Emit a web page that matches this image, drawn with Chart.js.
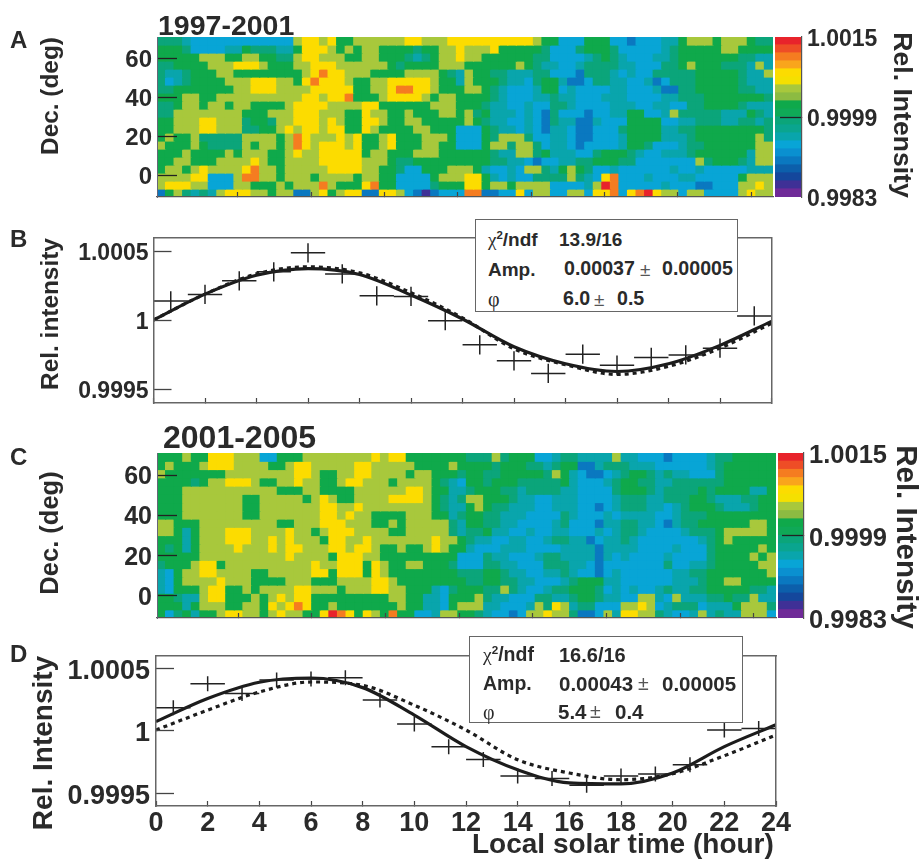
<!DOCTYPE html>
<html><head><meta charset="utf-8">
<style>
html,body{margin:0;padding:0;background:#fff;}
#fig{position:relative;width:920px;height:859px;overflow:hidden;background:#fff;}
canvas{position:absolute;left:0;}
.t{position:absolute;white-space:nowrap;font-family:"Liberation Sans",Arial,sans-serif;line-height:1;color:#2a2a2a;}
.box{position:absolute;background:#fff;border:1.5px solid #666;box-sizing:border-box;}
</style>
<script src="https://cdn.jsdelivr.net/npm/chart.js@4/dist/chart.umd.js"></script>
</head><body><div id="fig"></div>
<script>
// ---------- colour scale ----------
const levelColors = ['#6f2a98','#3f3096','#14479c','#0c5fab','#0a78c0','#0a90d0','#08a5d6','#09a5ac','#0aa58f','#0ba57a',
  '#0fa957','#0fa94b','#8cbb42','#a8c83c','#f5e000','#fcdc00','#f9a51c','#f57c20','#ee4d26','#e8232b'];
const scaleLow = 0.9983, scaleHigh = 1.0015, scaleMid = 0.9999;
const levelKey = {p:1,b:4,s:6,t:7,m:9,g:11,o:13,y:15,r:17,R:19};

// ---------- sky maps: rows from Dec 71 down to Dec -11, columns 0-360 deg, letters are levelKey levels ----------
const heatA = [
"mmmtss ssssss ssssoy yoyggo oooooy yoooyy yyyyyy yyoggs ssgggs sbssst tgooog ooogmm",
"gggmss ssttgm mmttgy yyogog oogggg mggooy oooygg gggmss smgggm ssssst mggggg oogggg",
"gggggo ooggoo ggmmoy yooogg oogggm tmgooy oogggg ggmmss sstmgm tssstt mggggg ggmmtt",
"mmgggg oooyyy ogggoo yyyooo ooogmg gggooo gggggg ogmtts stmmmm ttsssm mgoggg mmmtot",
"mttmgg googgg gggggo yryyoo oggggo ooogmt oggmmt ttmmss sbmmmt stssmm mmmggg ggmtto",
"mstmgg ggoooy yyoogy ryyyog gooyyy yyoggt ogggmt tsmggt bbsmmt tsstbs mmmggg ggmttt",
"mmgggg gggooy yyoooo yyyyyg gooyrr yyoggg oogmts sstggs tsssst tssstb bmmggg ggmmtt",
"gggoog gooooo oooooy yoyyrg ggoyyy yogoog gggmts ssttmt tssstt tsssst tmmmgg gggggm",
"mmgoog oogoog gggoyy yyoooo yygggg ggooog ggmtts stssmm tsssst ttsstt ssmmgg ggmttt",
"mmoooo oooogg goooyy yooogg yooggo gggoog omgttt stsbms ssbsst tggsst ommmmm tttgmt",
"ggoooy yooomg gmooyy yoyogg yyoggo oggggg ogmtts stsbmt tbbtss sggggs sttmmm ttmmtm",
"ggoooy yooomm ggoyoy yoyygg yogggg oogggs ssgmtt stsbtt sbbsss mggggt tmmggg gggggm",
"goggom mmmmoo oogory oooyoy ggoygg gooogs ssgmoo omsstt sbbsss tggggt ttmggg ggggom",
"ogggog mmmmog oogory oyyyoy ggoygg googgs ssgoom oomstt sbssss tggmss stmmgg ggggoo",
"gggogg ggogoo oggoyo oyyyyy googgg oooggg gggmtt oomgtt tssmgg gmtsst ttmggg gggtoo",
"ggoogg gooooy oggooo oyyyyy ooogmm gggggg gggmmt tsbsst tmmggg mmssss sssomg ggmtoo",
"googoy ooooyr oogooo ooyyyy ooggms sgggoo ogtsst soomtg ogmsst ssssss tsstss sssttt",
"ooooyy sssorr oogooo goooog ooggss ssgooo yygtst ssmmmm omtsyr ssstss sttsss ssgooo",
"oyyyoo sssoog ggogoo oroggg yrggss ssmggg yygoog ooooss sstoRr ssssst sssbbs ssooyo",
"bgomtm toyyyo ogoobb oygoyy bbyyos bpbsss rrbbss ysooss oosyyr syrRyo osooss ssoyoo"
];
const heatC = [
"gggogg yyyooo ssgggo oooooo oyoyyg gggggg mmmomg ggsstm mtttto ttsssb sssstm mggggg",
"gogggo yyyooo oggoyy oooooy yooooo ggggog gggmgg gmmtmg gbbtmm mtttss sssstm gggggg",
"oggggg ggoooo ooooyy oggooy yoooog oogggm ggmmgg gggmog tsbbst mggmtm ttsssm gggggg",
"ggggmg ooyyyo ggooyo oggoyy ooogoo oogmts ggmggg mmmmmg tssstm ggmmtt mmmmmm gggggg",
"gggooo oooooo oogggo oggggo oooooy yoggtt mgggmm tmmmmt tssssm gggmtm mmmgmg gggttg",
"gggooo oooogg ooooog oyoggo oooyyy yogmtm oogggm ttsstt tsssst mmmttm mmggmt ttmmgg",
"gggooo oooogg oooooo oyyooy oooooo oogmtt gogmmt ttsstt tssbst mmmtts tmgggm tttmgg",
"gggooo oooogg oooooo oyyoyo oggggo ooggtm ggmmtt tssssm tsssts ttttss tmmmgg gggggg",
"oogggo oooooo ooggoo oyyyoo oggogo oooomt ggmmtt sssstm sssbtt mmttsb tmmggg gggoog",
"oogtgo ooyyyo oooyoo goyyyo oooggo oooomt mmgtts stsstt ssstst mmtsss stmmmg ooooog",
"gggtgo ooyyyo oyoyoo ogyyoo yooooo ooyoog mttsst tsstmm ttbstt mtssss ssstmg oggggg",
"gmgtgo oooyoo oyoyyo ooyyoy yoggog goyogg tssstt tsssst tttbtt ttssss tsssmg ggggog",
"gggggo oooooo oooyoo oogyyy oogggg gggggs ssmtts sstmmt tttbts tsssst ssssmg gggogo",
"mgggoy ygoooo oooooo yooyyy gyoggo ogggms ssmmtt sssmmm ttsbss sssssm ssttmg ggggoo",
"tsgooy yoooog gooooo yygyyy gyoggg gggggm mmggmt tssttm tssbst ssssss ttmmgg gggggo",
"tsgooo oyooog gggooo gggooo oyyogg gggggg mmggmm ttssst mgggtt ssssss tttmgg oogggg",
"tsgggo yyggog ooooyy ooogoo oyyoog ggtsmg ggmmom tsstmm gggmst stsstm ttmmgg gggmmt",
"ggmtto yygggo goyoyy gggggg gggoog gttsgg gomtts ssmmtt mggmtt ssoots otttmm gmmott",
"gggtgo ooggoo gyoyry ggoggg ggggog gttsgo oottss stomyo tmmsss ooyost mmmstt tgooom",
"gsmgtg goyyoo goyoog gyRryg yogrgg sstoog gmtssb sooyoo mbbsot yyoomt sstotm ttooos"
];
const heatDecTop = 71, heatDecBottom = -11, heatDegTicks = [50,100,150,200,250,300,350], decTicks = [0,20,40,60];

// ---------- binned points, hour centres shared ----------
const binHours = [0.67,2,3.33,4.67,6,7.33,8.67,10,11.33,12.67,14,15.33,16.67,18,19.33,20.67,22,23.33];
const binHalfWidth = 0.667;
const pointsB = [1.000143,1.000191,1.00029,1.000355,1.000493,1.00034,1.000181,1.000176,1.0,0.999824,0.999708,0.999616,0.999756,0.999676,0.999732,0.999751,0.9998,1.000034];
const errB = 0.00007;
const pointsD = [1.000187,1.000379,1.000301,1.000408,1.000416,1.000427,1.000248,1.000056,0.999875,0.999773,0.99964,0.999621,0.999567,0.99964,0.999656,0.999731,1.000008,1.00002];
const errD = 0.00006;

// ---------- curves read every 2 hours ----------
const curveHours = [0,2,4,6,8,10,12,14,16,18,20,22,24];
const solidB  = [1.000005,1.000193,1.00033,1.000379,1.000336,1.000186,1.000012,0.99981,0.999686,0.99963,0.999686,0.99982,0.999995];
const dashedB = [1.000005,1.000193,1.00034,1.000391,1.000348,1.000203,1.00002,0.999795,0.999679,0.999609,0.999667,0.9998,0.99998];
const solidD  = [1.000075,1.00026,1.00039,1.000424,1.000347,1.000127,0.999875,0.99969,0.999585,0.999577,0.999664,0.999875,1.00005];
const dashedD = [1.000008,1.000167,1.000312,1.000392,1.000365,1.000206,1.000008,0.99977,0.999664,0.99961,0.999659,0.999802,0.999968];
const hourTicks = [0,2,4,6,8,10,12,14,16,18,20,22,24];
const intensityTicks = [0.9995,1,1.0005];
const intensityLabels = ['0.9995','1','1.0005'];
const barTicks = [0.9983,0.9999,1.0015];

const FONT = '"Liberation Sans", Arial, sans-serif';
const INK = '#2a2a2a', FRAME = '#666';
const fig = document.getElementById('fig');
Chart.defaults.font.family = FONT;
Chart.defaults.animation = false;

function makeCanvas(top, h){
  const c = document.createElement('canvas');
  c.width = 920; c.height = h; c.style.top = top+'px'; c.style.width='920px'; c.style.height=h+'px';
  fig.appendChild(c); return c;
}
function zeroFit(size){ return s => { if(s.isHorizontal()) s.height = size; else s.width = size; s.paddingLeft=s.paddingRight=s.paddingTop=s.paddingBottom=0; }; }
function setTicks(vals){ return s => { s.ticks = vals.map(v=>({value:v})); }; }
function baseOpts(p, topM, botM){
  return {responsive:false, animation:false, events:[], layout:{autoPadding:false, padding:{left:0, top:topM, right:920-p.r, bottom:botM}},
    plugins:{legend:{display:false},tooltip:{enabled:false},title:{display:false}}};
}

function heatChart(rows, p, fontPx, tickLabelGap){
  const margin = 20;
  const top = p.t-margin, h = p.b-p.t+2*margin;
  const grid = rows.map(r=>r.replace(/ /g,'').split('').map(ch=>levelKey[ch]));
  const cols = grid[0].length, nrows = grid.length;
  const step = (heatDecTop-heatDecBottom)/nrows;
  const cats = Array.from({length:cols},(_,i)=>i);
  const datasets = grid.map((row,r)=>({
    data: row.map(()=>[heatDecTop-step*(r+1), heatDecTop-step*r]),
    backgroundColor: row.map(l=>levelColors[l]),
    borderWidth:0, grouped:false, barPercentage:1, categoryPercentage:1, inflateAmount:0.6
  }));
  const o = baseOpts(p, margin, margin);
  o.scales = {
    x:{type:'category',display:false,offset:true},
    xTick:{axis:'x',type:'linear',position:'bottom',min:0,max:360,afterBuildTicks:setTicks(heatDegTicks),afterFit:zeroFit(0),
      ticks:{display:false,autoSkip:false},border:{display:true,color:'#555',width:1.2,z:1},
      grid:{drawOnChartArea:false,drawTicks:true,tickLength:-5,color:'#444',tickWidth:1.2,z:1}},
    y:{type:'linear',position:'left',min:heatDecBottom,max:heatDecTop,afterBuildTicks:setTicks(decTicks),afterFit:zeroFit(p.l),
      ticks:{color:INK,font:{size:fontPx,weight:'bold'},padding:20+tickLabelGap,autoSkip:false,labelOffset:2},
      border:{display:true,color:'#667',width:1,z:1},
      grid:{drawOnChartArea:false,tickLength:-20,color:'#222',tickWidth:1.3,z:1}}
  };
  return new Chart(makeCanvas(top,h),{type:'bar',data:{labels:cats,datasets},options:o});
}

function colorBar(p, fontPx){
  const margin = 20;
  const top = p.t-margin, h = p.b-p.t+2*margin;
  const n = levelColors.length, st = (scaleHigh-scaleLow)/n;
  const datasets = levelColors.map((c,i)=>({data:[[scaleLow+st*i,scaleLow+st*(i+1)]],backgroundColor:c,borderWidth:0,grouped:false,barPercentage:1,categoryPercentage:1,inflateAmount:0.6}));
  const o = baseOpts(p, margin, margin);
  o.layout.padding.left = p.l; o.layout.padding.right = 920-p.r-110;
  o.scales = {
    x:{type:'category',display:false,offset:true},
    y:{type:'linear',position:'right',min:scaleLow,max:scaleHigh,afterBuildTicks:setTicks(barTicks),afterFit:zeroFit(110),
      ticks:{color:INK,font:{size:fontPx,weight:'bold'},padding:27,autoSkip:false,labelOffset:3,callback:v=>v.toFixed(4)},
      border:{display:true,color:'#555',width:1.2,z:1},
      grid:{drawOnChartArea:false,tickLength:-22,tickWidth:1.3,z:1,color:c=>Math.abs(c.tick.value-scaleMid)<1e-6?'#222':'rgba(0,0,0,0)'}},
  };
  return new Chart(makeCanvas(top,h),{type:'bar',data:{labels:['scale'],datasets},options:o});
}

function linePanel(points, err, solid, dashed, p, cfg){
  const axisH = cfg.xLabels ? 40 : 0;
  const top = p.t-20, botM = cfg.bottom, h = p.b-p.t+20+botM;
  const crosses = [];
  binHours.forEach((x,i)=>{
    const y = points[i];
    crosses.push({x:x-binHalfWidth,y},{x:x+binHalfWidth,y},{x,y:null},{x,y:y-err},{x,y:y+err},{x,y:null});
  });
  const curve = arr => curveHours.map((x,i)=>({x,y:arr[i]}));
  const datasets = [
    {data:crosses,showLine:true,spanGaps:false,pointRadius:0,borderColor:'#222',borderWidth:1.5,tension:0},
    {data:curve(dashed),showLine:true,pointRadius:0,borderColor:'#1c1c1c',borderWidth:3.2,borderDash:[4,4],tension:0.4,cubicInterpolationMode:'monotone'},
    {data:curve(solid),showLine:true,pointRadius:0,borderColor:'#1c1c1c',borderWidth:3.2,tension:0.4,cubicInterpolationMode:'monotone'}
  ];
  const o = baseOpts(p,20,botM-axisH);
  const frame = {display:true,color:FRAME,width:1.5,z:1};
  o.scales = {
    x:{type:'linear',position:'bottom',min:0,max:24,afterBuildTicks:setTicks(hourTicks),afterFit:zeroFit(axisH),
      ticks:{display:cfg.xLabels,color:INK,font:{size:cfg.font,weight:'bold'},padding:5+cfg.xGap,autoSkip:false,maxRotation:0},
      border:frame,grid:{drawOnChartArea:false,tickLength:-5,color:'#444',tickWidth:1.2,z:1}},
    xTop:{axis:'x',type:'linear',position:'top',min:0,max:24,afterFit:zeroFit(0),ticks:{display:false},border:frame,grid:{drawOnChartArea:false,drawTicks:false}},
    y:{type:'linear',position:'left',min:cfg.yMin,max:cfg.yMax,afterBuildTicks:setTicks(intensityTicks),afterFit:zeroFit(p.l),
      ticks:{color:INK,font:{size:cfg.font,weight:'bold'},padding:18+cfg.yGap,autoSkip:false,labelOffset:cfg.yOff,callback:(v,i)=>intensityLabels[i]},
      border:frame,grid:{drawOnChartArea:false,tickLength:-18,color:'#444',tickWidth:1.3,z:1}},
    yRight:{axis:'y',type:'linear',position:'right',min:cfg.yMin,max:cfg.yMax,afterFit:zeroFit(0),ticks:{display:false},border:frame,grid:{drawOnChartArea:false,drawTicks:false}}
  };
  return new Chart(makeCanvas(top,h),{type:'scatter',data:{datasets},options:o});
}

function text(str,x,base,size,weight){
  const d=document.createElement('div');d.className='t';d.innerHTML=str;
  d.style.left=x+'px';d.style.top=(base-0.8465*size)+'px';d.style.fontSize=size+'px';d.style.fontWeight=weight||'bold';
  fig.appendChild(d);return d;
}
function vtext(str,cx,cy,size,deg){
  const d=document.createElement('div');d.className='t';d.textContent=str;
  d.style.left=cx+'px';d.style.top=cy+'px';d.style.fontSize=size+'px';d.style.fontWeight='bold';
  d.style.transform='translate(-50%,-50%) rotate('+deg+'deg)';
  fig.appendChild(d);return d;
}
function statBox(l,t,r,b){
  const d=document.createElement('div');d.className='box';
  d.style.cssText+='left:'+l+'px;top:'+t+'px;width:'+(r-l)+'px;height:'+(b-t)+'px;';
  fig.appendChild(d);
}
const chi='<span style="font-family:\'Liberation Serif\',serif;font-weight:normal">&chi;</span><sup style="font-size:.6em;line-height:0">2</sup>/ndf';
const phi='<span style="font-family:\'Liberation Serif\',serif;font-weight:normal">&phi;</span>';
const pm='<span style="font-weight:normal;color:#555">&plusmn;</span>';

// ---------- panels ----------
heatChart(heatA,{l:157,t:37,r:773,b:197},24,5);
colorBar({l:775,t:37,r:802,b:197},23);
linePanel(pointsB,errB,solidB,dashedB,{l:153.5,t:238,r:771.5,b:403},{bottom:20,font:23,xLabels:false,xGap:0,yGap:5,yOff:2,yMin:0.999401,yMax:1.000601});
heatChart(heatC,{l:157,t:453,r:776,b:618},25,5);
colorBar({l:778,t:453,r:804,b:618},25.5);
linePanel(pointsD,errD,solidD,dashedD,{l:156,t:656,r:776,b:806},{bottom:53,font:27,xLabels:true,xGap:1,yGap:6,yOff:3,yMin:0.9994,yMax:1.0006});

// ---------- text ----------
text('1997-2001',158,35,28.5);
text('2001-2005',163,448,32);
text('A',10,48,24);text('B',10,247,24);text('C',10,465,24);text('D',10,662,24);
vtext('Dec. (deg)',50,96,24.4,-90);
vtext('Rel. intensity',50,314,24.4,-90);
vtext('Dec. (deg)',50,533,25.5,-90);
vtext('Rel. Intensity',43,743,28,-90);
vtext('Rel. Intensity',903,115,26.6,90);
vtext('Rel. Intensity',907,537,29.5,90);
text('Local solar time (hour)',472,854,28);

statBox(475,219,738,312);
text(chi,488,246,19);text('13.9/16',559,246,19);
text('Amp.',488,276,19);text('0.00037',564,276,19.6);text(pm,640,276,19);text('0.00005',662,276,19.6);
text(phi,488,306,20);text('6.0',563,306,19.6);text(pm,594,306,19);text('0.5',617,306,19.6);

statBox(469,636,743,723);
text(chi,483,662,19.5);text('16.6/16',559,662,20);
text('Amp.',483,691,19.5);text('0.00043',559,691,20.5);text(pm,638,691,19.5);text('0.00005',662,691,20.5);
text(phi,483,719,20);text('5.4',558,719,20.5);text(pm,590,719,19.5);text('0.4',615,719,20.5);
</script></body></html>
